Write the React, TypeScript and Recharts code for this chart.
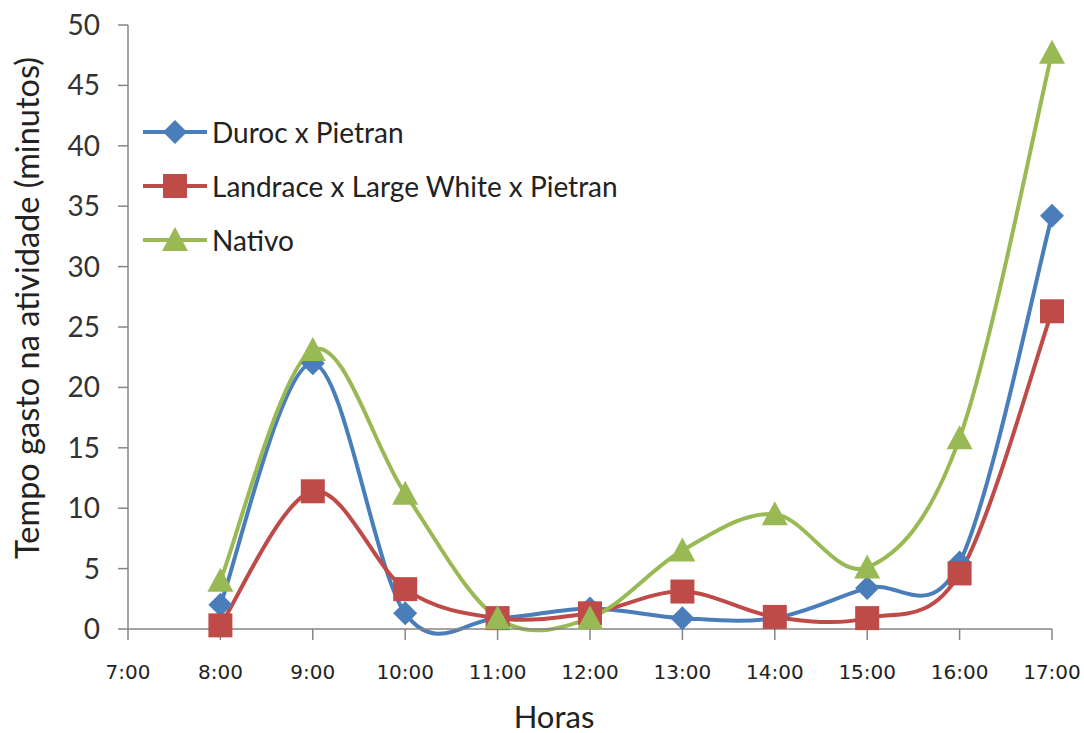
import React from "react";
import { Line, LineChart, XAxis, YAxis } from "recharts";

// hours (x) and minutes spent per breed group
const hours = [8, 9, 10, 11, 12, 13, 14, 15, 16, 17];
const durocPietran = [2.0, 22.0, 1.3, 0.9, 1.7, 0.9, 0.9, 3.4, 5.5, 34.2];
const landraceLwPietran = [0.3, 11.4, 3.3, 0.9, 1.3, 3.1, 1.0, 0.9, 4.6, 26.3];
const nativo = [4.0, 23.1, 11.2, 0.9, 0.9, 6.5, 9.5, 5.1, 15.8, 47.7];

const xTicks = [7, 8, 9, 10, 11, 12, 13, 14, 15, 16, 17];
const yTicks = [0, 5, 10, 15, 20, 25, 30, 35, 40, 45, 50];

const series = [
    { key: "duroc", name: "Duroc x Pietran", color: "#4a7ebb", shape: "diamond", values: durocPietran },
    { key: "landrace", name: "Landrace x Large White x Pietran", color: "#be4b48", shape: "square", values: landraceLwPietran },
    { key: "nativo", name: "Nativo", color: "#98b954", shape: "triangle", values: nativo },
];

const data = hours.map((h, i) => {
    const row: Record<string, number> = { hour: h };
    series.forEach((s) => (row[s.key] = s.values[i]));
    return row;
});

const FONT = "Lato, 'Open Sans', sans-serif";
const AXIS = "#868686";

// Excel-like smoothing (uniform Catmull-Rom as cubic beziers)
const smoothCurve = (context: any) => {
    let pts: number[][] = [];
    return {
        areaStart() {},
        areaEnd() {},
        lineStart() {
            pts = [];
        },
        point(x: number, y: number) {
            pts.push([+x, +y]);
        },
        lineEnd() {
            const n = pts.length;
            if (!n) return;
            context.moveTo(pts[0][0], pts[0][1]);
            for (let i = 0; i < n - 1; i++) {
                const p0 = pts[i - 1] || pts[i];
                const p1 = pts[i];
                const p2 = pts[i + 1];
                const p3 = pts[i + 2] || p2;
                context.bezierCurveTo(
                    p1[0] + (p2[0] - p0[0]) / 6,
                    p1[1] + (p2[1] - p0[1]) / 6,
                    p2[0] - (p3[0] - p1[0]) / 6,
                    p2[1] - (p3[1] - p1[1]) / 6,
                    p2[0],
                    p2[1]
                );
            }
        },
    };
};

const Marker = ({ shape, x, y, color }: { shape: string; x: number; y: number; color: string }) => {
    if (shape === "diamond") {
        const r = 12;
        return <polygon points={`${x},${y - r} ${x + r},${y} ${x},${y + r} ${x - r},${y}`} fill={color} />;
    }
    if (shape === "square") {
        const r = 12;
        return <rect x={x - r} y={y - r} width={r * 2} height={r * 2} fill={color} />;
    }
    const r = 13;
    return <polygon points={`${x},${y - r} ${x + r},${y + r - 2} ${x - r},${y + r - 2}`} fill={color} />;
};

const renderDot = (shape: string, color: string) => (props: any) => {
    const { cx, cy, index } = props;
    if (cx == null || cy == null) return <g key={`${shape}-${index}`} />;
    return (
        <g key={`${shape}-${index}`}>
            <Marker shape={shape} x={cx} y={cy} color={color} />
        </g>
    );
};

const LegendBox = () => (
    <div style={{ position: "absolute", left: 142, top: 105, fontFamily: FONT, fontSize: 28, color: "#222" }}>
        {series.map((s) => (
            <div key={s.key} style={{ display: "flex", alignItems: "center", height: 54 }}>
                <svg width={68} height={30}>
                    <line x1={1} y1={15} x2={65} y2={15} stroke={s.color} strokeWidth={4} />
                    <Marker shape={s.shape} x={33} y={15} color={s.color} />
                </svg>
                <span style={{ marginLeft: 2, whiteSpace: "nowrap" }}>{s.name}</span>
            </div>
        ))}
    </div>
);

export default function App() {
    return (
        <div style={{ position: "absolute", left: 0, top: 0, width: 1084, height: 733, background: "#fff" }}>
            <LineChart width={1084} height={733} data={data} margin={{ top: 25, right: 32, bottom: 0, left: 0 }}>
                <XAxis
                    dataKey="hour"
                    type="number"
                    domain={[7, 17]}
                    ticks={xTicks}
                    interval={0}
                    tickFormatter={(v) => `${v}:00`}
                    height={104}
                    stroke={AXIS}
                    strokeWidth={1.5}
                    tickSize={11}
                    tickMargin={25}
                    tick={{ fill: "#222", fontSize: 20, fontFamily: "'DejaVu Sans', sans-serif" }}
                />
                <YAxis
                    type="number"
                    domain={[0, 50]}
                    ticks={yTicks}
                    interval={0}
                    width={128}
                    stroke={AXIS}
                    strokeWidth={1.5}
                    tickSize={10}
                    tickMargin={18}
                    tick={{ fill: "#333", fontSize: 28, fontFamily: FONT }}
                />
                {series.map((s) => (
                    <Line
                        key={s.key}
                        dataKey={s.key}
                        name={s.name}
                        type={smoothCurve as any}
                        stroke={s.color}
                        strokeWidth={4}
                        dot={renderDot(s.shape, s.color)}
                        activeDot={false}
                        isAnimationActive={false}
                    />
                ))}
            </LineChart>
            <LegendBox />
            <div
                style={{
                    position: "absolute",
                    left: 26,
                    top: 308,
                    transform: "translate(-50%, -50%) rotate(-90deg)",
                    whiteSpace: "nowrap",
                    fontFamily: FONT,
                    fontSize: 32.5,
                    color: "#222",
                }}
            >
                Tempo gasto na atividade (minutos)
            </div>
            <div
                style={{
                    position: "absolute",
                    left: 554,
                    top: 716,
                    transform: "translate(-50%, -50%)",
                    whiteSpace: "nowrap",
                    fontFamily: FONT,
                    fontSize: 31,
                    color: "#222",
                }}
            >
                Horas
            </div>
        </div>
    );
}
